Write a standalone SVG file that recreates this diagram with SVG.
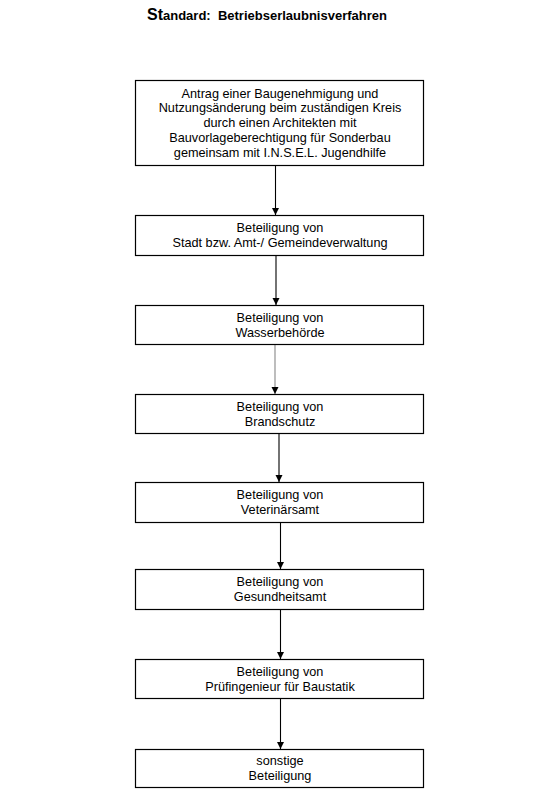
<svg xmlns="http://www.w3.org/2000/svg" width="560" height="812" viewBox="0 0 560 812">
<style>
.box{fill:#fff;stroke:#000;stroke-width:1.2}
.t{font-family:"Liberation Sans",Arial,sans-serif;font-size:12.7px;fill:#000;text-anchor:middle}
.c{stroke:#000;stroke-width:1.1;fill:none}
.g{stroke:#888}
.title{font-family:"Liberation Sans",Arial,sans-serif;font-weight:bold;font-size:13px;fill:#000}
</style>
<defs>
<marker id="ah" markerWidth="8" markerHeight="8" refX="7" refY="4" orient="auto" markerUnits="userSpaceOnUse">
<path d="M0,0.5 L7,4 L0,7.5 Z" fill="#000"/>
</marker>
</defs>
<rect width="560" height="812" fill="#fff"/>
<text class="title" x="147" y="20" xml:space="preserve"><tspan font-size="16px">St</tspan>andard:  Betriebserlaubnisverfahren</text>
<g id="connectors">
<line class="c" x1="275.5" y1="165" x2="275.5" y2="215" marker-end="url(#ah)"/>
<line class="c" x1="276" y1="255" x2="276" y2="305" marker-end="url(#ah)"/>
<line class="c g" x1="275" y1="344" x2="275" y2="394" marker-end="url(#ah)"/>
<line class="c" x1="279" y1="433" x2="279" y2="482" marker-end="url(#ah)"/>
<line class="c" x1="280.5" y1="522" x2="280.5" y2="569" marker-end="url(#ah)"/>
<line class="c" x1="280.5" y1="610" x2="280.5" y2="659" marker-end="url(#ah)"/>
<line class="c" x1="280.5" y1="699" x2="280.5" y2="749" marker-end="url(#ah)"/>
</g>
<g id="n1"><rect class="box" x="135.5" y="80.5" width="288" height="85"/>
<text class="t" x="280" y="97.5">Antrag einer Baugenehmigung und</text>
<text class="t" x="280" y="112.3">Nutzungsänderung beim zuständigen Kreis</text>
<text class="t" x="280" y="127">durch einen Architekten mit</text>
<text class="t" x="280" y="141.8">Bauvorlageberechtigung für Sonderbau</text>
<text class="t" x="280" y="156.6">gemeinsam mit I.N.S.E.L. Jugendhilfe</text></g>
<g id="n2"><rect class="box" x="135.5" y="215.5" width="288" height="40"/>
<text class="t" x="280" y="231.7">Beteiligung von</text>
<text class="t" x="280" y="246.7">Stadt bzw. Amt-/ Gemeindeverwaltung</text></g>
<g id="n3"><rect class="box" x="135.5" y="305.5" width="288" height="39"/>
<text class="t" x="280" y="321.5">Beteiligung von</text>
<text class="t" x="280" y="336.5">Wasserbehörde</text></g>
<g id="n4"><rect class="box" x="135.5" y="394.5" width="288" height="39"/>
<text class="t" x="280" y="410.5">Beteiligung von</text>
<text class="t" x="280" y="425.5">Brandschutz</text></g>
<g id="n5"><rect class="box" x="135.5" y="482.5" width="288" height="40"/>
<text class="t" x="280" y="498.5">Beteiligung von</text>
<text class="t" x="280" y="513.5">Veterinärsamt</text></g>
<g id="n6"><rect class="box" x="135.5" y="569.5" width="288" height="40"/>
<text class="t" x="280" y="585.5">Beteiligung von</text>
<text class="t" x="280" y="600.5">Gesundheitsamt</text></g>
<g id="n7"><rect class="box" x="135.5" y="659.5" width="288" height="39"/>
<text class="t" x="280" y="675.5">Beteiligung von</text>
<text class="t" x="280" y="690.5">Prüfingenieur für Baustatik</text></g>
<g id="n8"><rect class="box" x="135.5" y="749.5" width="288" height="38"/>
<text class="t" x="280" y="765">sonstige</text>
<text class="t" x="280" y="780">Beteiligung</text></g>
</svg>
